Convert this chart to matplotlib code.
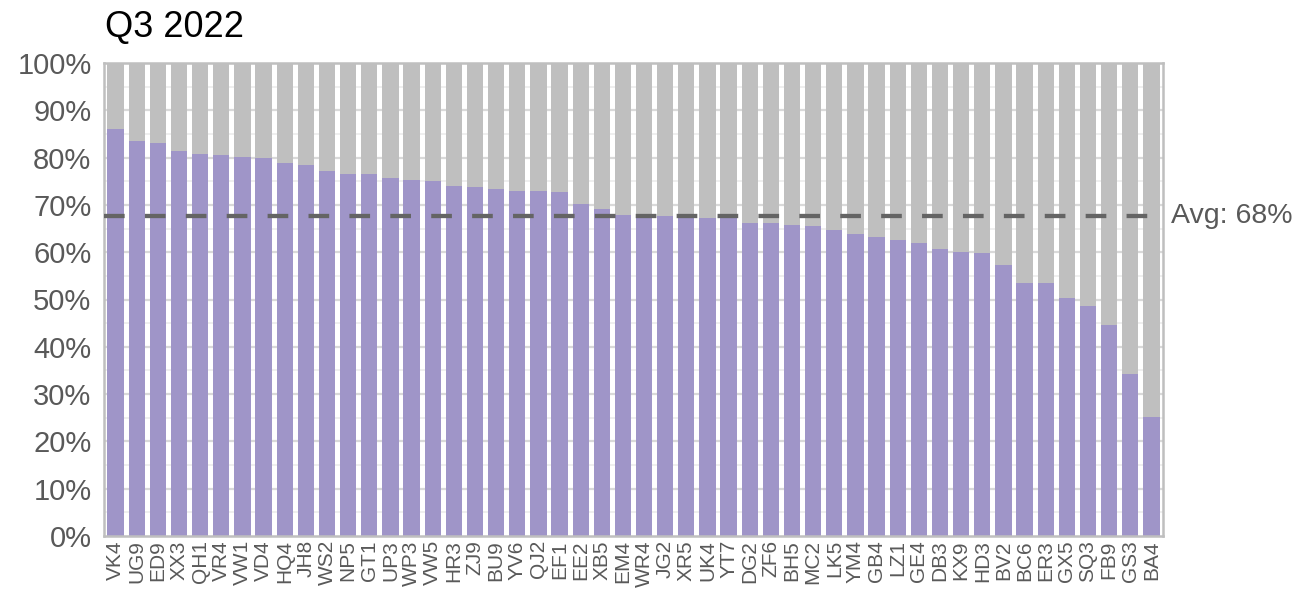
import matplotlib.pyplot as plt
import numpy as np

plt.rcParams['font.family'] = ['Liberation Sans', 'DejaVu Sans']

# Datos
codigos = ['VK4', 'UG9', 'ED9', 'XX3', 'QH1', 'VR4', 'VW1', 'VD4', 'HQ4', 'JH8',
           'WS2', 'NP5', 'GT1', 'UP3', 'WP3', 'VW5', 'HR3', 'ZJ9', 'BU9', 'YV6',
           'QJ2', 'EF1', 'EE2', 'XB5', 'EM4', 'WR4', 'JG2', 'XR5', 'UK4', 'YT7',
           'DG2', 'ZF6', 'BH5', 'MC2', 'LK5', 'YM4', 'GB4', 'LZ1', 'GE4', 'DB3',
           'KX9', 'HD3', 'BV2', 'BC6', 'ER3', 'GX5', 'SQ3', 'FB9', 'GS3', 'BA4']
valores = [86.0, 83.5, 83.1, 81.4, 80.8, 80.5, 80.1, 79.9, 78.9, 78.4,
           77.2, 76.5, 76.5, 75.7, 75.3, 75.0, 74.0, 73.8, 73.4, 72.9,
           72.9, 72.7, 70.2, 69.1, 67.9, 67.9, 67.7, 67.6, 67.2, 67.5,
           66.2, 66.2, 65.8, 65.5, 64.7, 63.8, 63.2, 62.6, 61.9, 60.7,
           60.0, 59.8, 57.3, 53.5, 53.5, 50.3, 48.6, 44.6, 34.2, 25.2]
promedio = 67.6
titulo = 'Q3 2022'

x = np.arange(len(codigos))
valores = np.array(valores)
resto = 100 - valores

fig = plt.figure(figsize=(13.1, 6.03), dpi=100)
ax = fig.add_axes([104 / 1310, 1 - 536 / 603, (1163 - 104) / 1310, (536 - 63) / 603])

# Cuadrícula
for y in np.arange(5, 100, 10):
    ax.axhline(y, color='#ececec', lw=1.2, zorder=0)
for y in np.arange(10, 100, 10):
    ax.axhline(y, color='#d9d9d9', lw=1.6, zorder=0)

# Barras apiladas
ax.bar(x, valores, width=0.77, color='#9f95c8', zorder=2)
ax.bar(x, resto, bottom=valores, width=0.77, color='#bfbfbf', zorder=2)

# Línea de promedio
ax.axhline(promedio, color='#646464', lw=3.1, dashes=(4.8, 4.7), zorder=3)
ax.text(1.008, promedio, 'Avg: %d%%' % round(promedio), transform=ax.get_yaxis_transform(),
        va='center', ha='left', fontsize=20.5, color='#595959')

ax.set_xlim(-0.55, len(codigos) - 0.45)
ax.set_ylim(0, 100)
ax.set_yticks(np.arange(0, 101, 10))
ax.set_yticklabels(['%d%%' % v for v in range(0, 101, 10)])
ax.set_xticks(x)
ax.set_xticklabels(codigos, rotation=90)
ax.tick_params(axis='y', length=0, labelsize=21, labelcolor='#595959', pad=9)
ax.tick_params(axis='x', length=0, labelsize=15, labelcolor='#595959', pad=3)

for s in ax.spines.values():
    s.set_color('#bfbfbf')
    s.set_linewidth(1.8)

fig.text(105 / 1310, 1 - 27 / 603, titulo, fontsize=26, color='black', va='center', ha='left')

plt.savefig('out.png', dpi=100)
